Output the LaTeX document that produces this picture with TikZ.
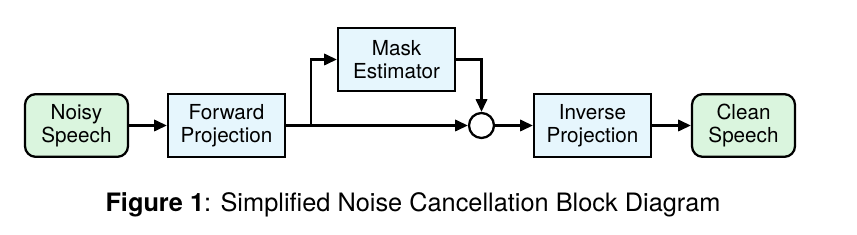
\documentclass[tikz,border=0pt]{standalone}
\usepackage{fontspec}
\setmainfont{TeX Gyre Heros}
\usetikzlibrary{arrows.meta}
\definecolor{speechgreen}{RGB}{218,245,222}
\definecolor{blockblue}{RGB}{230,246,253}
\tikzset{
  block/.style={draw, line width=1.7pt, fill=blockblue, minimum width=87.75pt,
    minimum height=47pt, align=center, inner sep=0pt,
    font=\fontsize{15.5}{17.5}\selectfont},
  speech/.style={block, fill=speechgreen, minimum width=77.25pt, rounded corners=8pt},
  sumnode/.style={draw, circle, line width=1.7pt, fill=white, minimum size=18.75pt, inner sep=0pt},
  flow/.style={line width=1.7pt, -{Triangle[length=9.5pt,width=8.5pt]}}
}
\begin{document}
\begin{tikzpicture}[x=0.75pt,y=-0.75pt]
	\useasboundingbox (0,0) rectangle (857,235);
	\node[speech] (noisy) at (76.5,125.5) {Noisy\\Speech};
	\node[block] (fwd) at (226.5,125.5) {Forward\\Projection};
	\node[block] (mask) at (396.5,59.5) {Mask\\Estimator};
	\node[sumnode] (sum) at (481.5,125.5) {};
	\node[block] (inv) at (592.5,125.5) {Inverse\\Projection};
	\node[speech] (clean) at (743.5,125.5) {Clean\\Speech};
	\coordinate (split) at (311,125.5);
	% signal path
	\draw[flow] (noisy) -- (fwd);
	\draw[flow] (fwd) -- (sum);
	\draw[flow] (split) |- (mask.west);
	\draw[flow] (mask.east) -| (sum.north);
	\draw[flow] (sum) -- (inv);
	\draw[flow] (inv) -- (clean);
	\node[font=\fontsize{19}{22}\selectfont] (caption) at (413,205)
		{\textbf{Figure 1}: Simplified Noise Cancellation Block Diagram};
\end{tikzpicture}
\end{document}
